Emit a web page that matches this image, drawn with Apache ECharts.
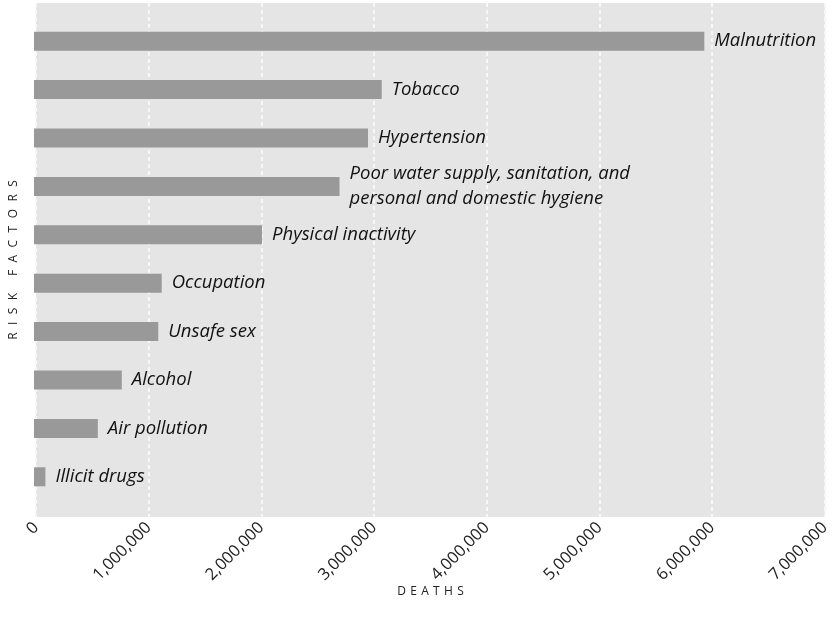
<!DOCTYPE html>
<html>
<head>
<meta charset="utf-8">
<script src="https://cdn.jsdelivr.net/npm/echarts@6/dist/echarts.min.js"></script>
<style>
  html, body { margin: 0; padding: 0; background: #fff; }
  #chart { width: 833px; height: 625px; }
</style>
</head>
<body>
<div id="chart"></div>
<script>
// risk factors, top to bottom
const categories = [
    'Malnutrition',
    'Tobacco',
    'Hypertension',
    'Poor water supply, sanitation, and\npersonal and domestic hygiene',
    'Physical inactivity',
    'Occupation',
    'Unsafe sex',
    'Alcohol',
    'Air pollution',
    'Illicit drugs'
];
const deaths = [5880000, 3050000, 2930000, 2680000, 2000000, 1120000, 1090000, 770000, 560000, 100000];
const xTicks = [0, 1000000, 2000000, 3000000, 4000000, 5000000, 6000000, 7000000];

const font = '"Open Sans", "DejaVu Sans", sans-serif';
const spaced = (s, gap) => s.split('').join(gap);

let myChart = echarts.init(document.getElementById('chart'));
let option = {
    animation: false,
    grid: [
        { // background panel + axis
            left: 34, right: 1, top: 3, bottom: 108,
            show: true, backgroundColor: '#e5e5e5', borderWidth: 0
        },
        { // bars, inset so bands line up with the reference
            left: 34, right: 1, top: 17, bottom: 124
        }
    ],
    xAxis: [{
        gridIndex: 0,
        type: 'value',
        min: xTicks[0],
        max: xTicks[xTicks.length - 1],
        interval: 1000000,
        name: spaced('DEATHS', ' \u200A'),
        nameLocation: 'middle',
        nameGap: 69,
        nameMoveOverlap: false,
        nameTextStyle: { color: '#222', fontFamily: font, fontSize: 12 },
        axisLine: { show: false },
        axisTick: { show: false },
        axisLabel: {
            rotate: 45,
            margin: 8,
            color: '#222',
            fontFamily: font,
            fontSize: 16.5,
            formatter: v => v.toLocaleString('en-US')
        },
        splitLine: {
            show: true,
            lineStyle: { color: '#f7f7f7', width: 2, type: [4, 3] }
        }
    }, {
        gridIndex: 1,
        type: 'value',
        min: xTicks[0],
        max: xTicks[xTicks.length - 1],
        show: false,
        splitLine: { show: false }
    }],
    yAxis: [{
        gridIndex: 0,
        type: 'value',
        name: 'R \u200A I \u200A S \u200A K  \u200A   F \u200A A \u200A C \u200A T \u200A O \u200A R \u200A S',
        nameLocation: 'middle',
        nameGap: 16,
        nameTextStyle: { color: '#222', fontFamily: font, fontSize: 12 },
        axisLine: { show: false },
        axisTick: { show: false },
        axisLabel: { show: false },
        splitLine: { show: false }
    }, {
        gridIndex: 1,
        type: 'category',
        inverse: true,
        data: categories,
        show: false
    }],
    series: [{
        type: 'bar',
        xAxisIndex: 1,
        yAxisIndex: 1,
        barWidth: 19,
        itemStyle: { color: '#999999' },
        data: deaths,
        label: {
            show: true,
            position: 'right',
            distance: 10,
            color: '#111',
            fontFamily: font,
            fontStyle: 'italic',
            fontSize: 18.5,
            lineHeight: 25,
            formatter: p => p.name
        }
    }]
};
myChart.setOption(option);
</script>
</body>
</html>
